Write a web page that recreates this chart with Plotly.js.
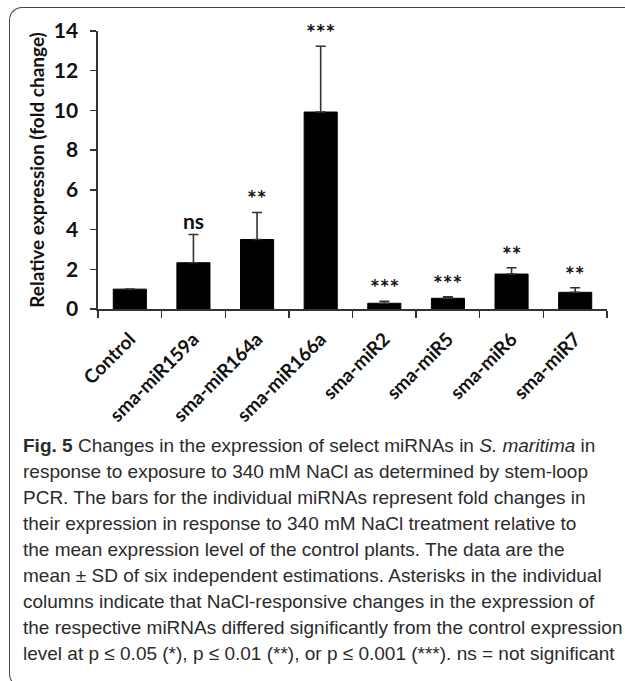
<!DOCTYPE html>
<html>
<head>
<meta charset="utf-8">
<script src="https://cdn.plot.ly/plotly-3.0.1.min.js"></script>
<style>
html,body{margin:0;padding:0;background:#fff;}
#wrap{position:relative;width:625px;height:681px;overflow:hidden;}
#frame{position:absolute;left:9px;top:7px;width:640px;height:680px;border-left:1.6px solid #444;border-top:1.6px solid #444;border-bottom:1.6px solid #444;border-radius:13px 0 0 13px;pointer-events:none;box-sizing:border-box;}
#chart{position:absolute;left:0;top:0;width:625px;height:681px;}
</style>
</head>
<body>
<div id="wrap">
<div id="chart"></div>
<div id="frame"></div>
</div>
<script>
const categories = ["Control","sma-miR159a","sma-miR164a","sma-miR166a","sma-miR2","sma-miR5","sma-miR6","sma-miR7"];
const means = [1.0, 2.33, 3.5, 9.92, 0.29, 0.54, 1.76, 0.84];
const sds = [0.0, 1.42, 1.36, 3.31, 0.10, 0.08, 0.32, 0.23];
const signif = ["", "ns", "**", "***", "***", "***", "**", "**"];
const yTicks = [0,2,4,6,8,10,12,14];

const captionLines = [
  "<b>Fig. 5</b> Changes in the expression of select miRNAs in <i>S. maritima</i> in",
  "response to exposure to 340 mM NaCl as determined by stem-loop",
  "PCR. The bars for the individual miRNAs represent fold changes in",
  "their expression in response to 340 mM NaCl treatment relative to",
  "the mean expression level of the control plants. The data are the",
  "mean ± SD of six independent estimations. Asterisks in the individual",
  "columns indicate that NaCl-responsive changes in the expression of",
  "the respective miRNAs differed significantly from the control expression",
  "level at p ≤ 0.05 (*), p ≤ 0.01 (**), or p ≤ 0.001 (***). ns = not significant"
];

const W = 625, H = 681;
const M = {l:98, r:18, t:31, b:372};
const plotW = W - M.l - M.r, plotH = H - M.t - M.b;
const px2x = p => (p - M.l) / plotW;
const px2y = p => (H - M.b - p) / plotH;

const FAM = "Lato, 'Open Sans', sans-serif";

const trace = {
  type:"bar",
  x: categories,
  y: means,
  marker:{color:"#000", line:{color:"#000", width:1}},
  error_y:{type:"data", symmetric:false, array: sds, arrayminus: sds.map(() => 0),
           visible:true, color:"#333", thickness:1.6, width:5},
  hoverinfo:"skip"
};

const annotations = categories.map((c,i) => ({
  x: c, y: means[i] + sds[i], xref:"x", yref:"y",
  text: signif[i], showarrow:false, yanchor:"bottom", yshift: signif[i] === "ns" ? 0 : -2,
  font:{family:FAM, size: signif[i] === "ns" ? 21 : 23, color:"#111", weight:"bold"}
})).filter(a => a.text !== "");

captionLines.forEach((line, k) => {
  annotations.push({
    xref:"paper", yref:"paper", x: px2x(21), y: px2y(445 + 26.1 * k),
    xanchor:"left", yanchor:"middle", align:"left", showarrow:false,
    text: line,
    font:{family:"'Liberation Sans', Arimo, sans-serif", size:19, color:"#2b2b2b"}
  });
});

const layout = {
  width: W, height: H,
  margin: M,
  paper_bgcolor:"rgba(0,0,0,0)", plot_bgcolor:"rgba(0,0,0,0)",
  showlegend:false,
  bargap:0.48,
  xaxis:{
    type:"category",
    showline:true, linecolor:"#333", linewidth:1.6,
    ticks:"outside", tickson:"boundaries", ticklen:7, tickwidth:1.4, tickcolor:"#333",
    tickangle:-45, ticklabelstandoff:10,
    tickfont:{family:FAM, size:19, color:"#111", weight:"bold"},
    showgrid:false, zeroline:false, fixedrange:true
  },
  yaxis:{
    range:[0,14],
    tickvals:yTicks, ticktext:yTicks.map(String),
    showline:true, linecolor:"#333", linewidth:1.6,
    ticks:"outside", ticklen:6, tickwidth:1.4, tickcolor:"#333",
    ticklabelstandoff:8,
    tickfont:{family:FAM, size:21, color:"#111", weight:"bold"},
    showgrid:false, zeroline:false, fixedrange:true,
    title:{text:"Relative expression (fold change)", standoff:4,
      font:{family:FAM, size:19, color:"#111", weight:"bold"}}
  },
  annotations: annotations
};

Plotly.newPlot("chart", [trace], layout, {displayModeBar:false, staticPlot:true});
</script>
</body>
</html>
